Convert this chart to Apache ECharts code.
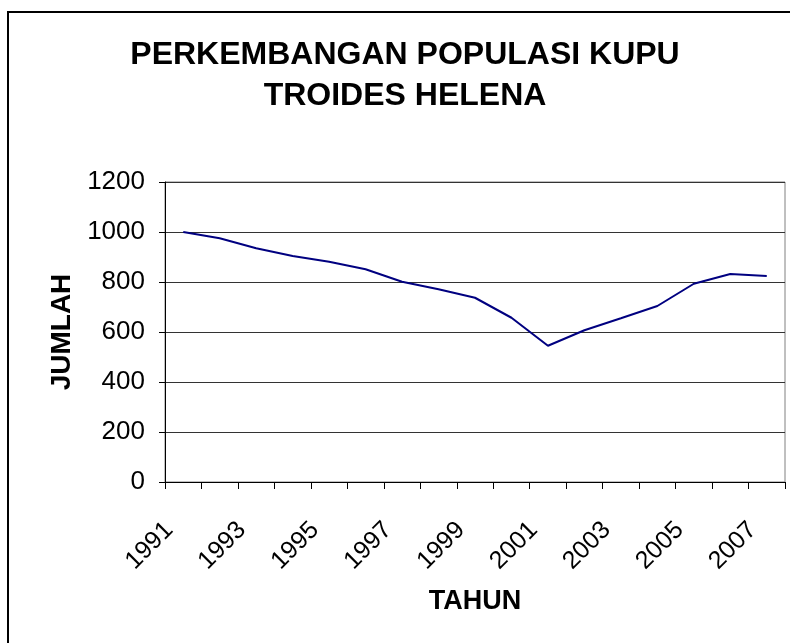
<!DOCTYPE html>
<html>
<head>
<meta charset="utf-8">
<script src="https://cdn.jsdelivr.net/npm/echarts@6/dist/echarts.min.js"></script>
<style>
html,body{margin:0;padding:0;background:#fff;}
#chart{width:790px;height:643px;}
</style>
</head>
<body>
<div id="chart"></div>
<script>
const titleText = 'PERKEMBANGAN POPULASI KUPU\nTROIDES HELENA';
const xAxisName = 'TAHUN';
const yAxisName = 'JUMLAH';
const years = ['1991','1992','1993','1994','1995','1996','1997','1998','1999','2000','2001','2002','2003','2004','2005','2006','2007'];
const jumlah = [1000, 975, 935, 904, 881, 851, 801, 771, 737, 657, 545, 607, 655, 704, 793, 832, 824];
const yTicks = [0, 200, 400, 600, 800, 1000, 1200];

const FONT = 'Liberation Sans, Arial, sans-serif';
const chart = echarts.init(document.getElementById('chart'), null, {renderer: 'canvas'});
chart.setOption({
  animation: false,
  backgroundColor: '#fff',
  title: {
    text: titleText,
    left: 400,
    top: 30,
    textAlign: 'center',
    textStyle: {fontFamily: FONT, fontWeight: 'bold', fontSize: 32, lineHeight: 41, color: '#000'}
  },
  graphic: [{
    type: 'rect',
    shape: {x: 8, y: 12, width: 820, height: 700},
    style: {fill: null, stroke: '#000', lineWidth: 2},
    silent: true,
    z: -1
  }],
  grid: {
    left: 165, right: 5, top: 182, bottom: 161,
    show: true, borderColor: '#808080', borderWidth: 1, backgroundColor: 'transparent'
  },
  xAxis: {
    type: 'category',
    data: years,
    boundaryGap: true,
    name: xAxisName,
    nameLocation: 'middle',
    nameGap: 106,
    nameTextStyle: {fontFamily: FONT, fontWeight: 'bold', fontSize: 27, color: '#000', verticalAlign: 'top'},
    axisLine: {lineStyle: {color: '#000', width: 1}},
    axisTick: {show: true, interval: 0, length: 7, lineStyle: {color: '#000'}},
    axisLabel: {
      interval: 1, rotate: 45, margin: 30, padding: [0, 20, 0, 0],
      fontFamily: FONT, fontSize: 25, color: '#000'
    },
    splitLine: {show: false}
  },
  yAxis: {
    type: 'value',
    min: yTicks[0], max: yTicks[yTicks.length - 1], interval: 200,
    name: yAxisName,
    nameLocation: 'middle',
    nameGap: 88,
    nameRotate: 90,
    nameTextStyle: {fontFamily: FONT, fontWeight: 'bold', fontSize: 28, color: '#000'},
    axisLine: {show: true, lineStyle: {color: '#000', width: 1}},
    axisTick: {show: true, length: 6, lineStyle: {color: '#000'}},
    axisLabel: {margin: 20, fontFamily: FONT, fontSize: 26, color: '#000', formatter: function (v) { return String(v); }},
    splitLine: {show: true, lineStyle: {color: '#333', width: 1}}
  },
  series: [{
    type: 'line',
    data: jumlah,
    showSymbol: false,
    symbol: 'none',
    lineStyle: {color: '#000080', width: 2},
    itemStyle: {color: '#000080'}
  }]
});
</script>
</body>
</html>
